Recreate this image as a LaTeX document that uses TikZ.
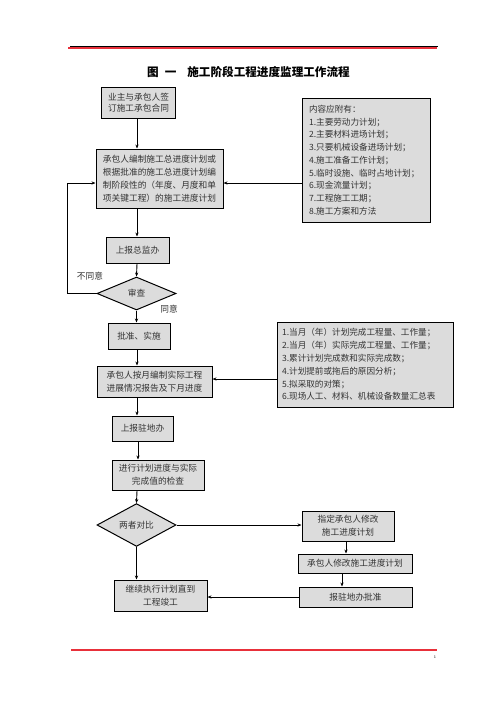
\documentclass[tikz,border=0pt]{standalone}
\usepackage{fontspec}
\newfontfamily\cjk{Noto Sans CJK SC}
\usetikzlibrary{shapes.geometric,arrows.meta}
\definecolor{boxgray}{HTML}{DCDCDC}
\definecolor{txt}{HTML}{333333}
\definecolor{hred}{HTML}{E8303A}
\begin{document}
\begin{tikzpicture}[x=1pt,y=-1pt,
  box/.style={draw=black, line width=1pt, fill=boxgray, inner sep=0pt, align=center, text=txt,
    font=\cjk\fontsize{8.7}{13}\selectfont},
  dia/.style={box, shape=diamond},
  lbox/.style={box, align=left},
  lbl/.style={inner sep=0pt, text=txt, font=\cjk\fontsize{8.7}{13}\selectfont},
  arr/.style={-{Stealth[length=4pt,width=3.2pt]}, line width=0.9pt}]
\useasboundingbox (0,0) rectangle (496,702);
% header and footer
\draw[line width=0.9pt, black] (70,46) -- (438,46);
\draw[line width=1.6pt, hred] (68,48.2) -- (437,48.2);
\draw[line width=1.6pt, hred] (71,650) -- (437,650);
\node[inner sep=0pt, font=\fontsize{4}{4}\selectfont] (pg) at (435,657) {1};
% title
\node[inner sep=0pt, anchor=west, font=\cjk\bfseries\fontsize{11.6}{13}\selectfont] (title) at (147,72)
  {图\hspace{6pt}一\hspace{11pt}施工阶段工程进度监理工作流程};
% columns
\coordinate (cx) at (137,0);
\coordinate (cx2) at (138,0);
\coordinate (lx) at (67,0);
\coordinate (ly) at (0,183);
\coordinate (ly2) at (0,379);
\coordinate (rx1) at (346,0);
\coordinate (rx2) at (342,0);
% left column
\node[box, minimum width=74pt, minimum height=31pt, font=\cjk\fontsize{8.7}{11.5}\selectfont] (b1) at (138.5,102.5) {业主与承包人签\\订施工承包合同};
\node[box, minimum width=127pt, minimum height=59pt] (b2) at (159.5,178.5)
  {承包人编制施工总进度计划或\\根据批准的施工总进度计划编\\制阶段性的（年度、月度和单\\项关键工程）的施工进度计划};
\node[box, minimum width=63pt, minimum height=26pt] (b3) at (137.5,250) {上报总监办};
\node[dia, minimum width=79pt, minimum height=33pt] (d1) at (136.5,293.5) {审查};
\node[lbl] (l1) at (90,276) {不同意};
\node[lbl] (l2) at (169,309) {同意};
\node[box, minimum width=62pt, minimum height=26pt] (b4) at (139,336) {批准、实施};
\node[box, minimum width=115pt, minimum height=31pt] (b5) at (154.5,381.5) {承包人按月编制实际工程\\进展情况报告及下月进度};
\node[box, minimum width=61pt, minimum height=25pt] (b6) at (142.5,428.5) {上报驻地办};
\node[box, minimum width=92pt, minimum height=30pt] (b7) at (158,475) {进行计划进度与实际\\完成值的检查};
\node[dia, minimum width=79pt, minimum height=32pt] (d2) at (136.5,525) {两者对比};
\node[box, minimum width=93pt, minimum height=31pt] (b8) at (160.5,595.5) {继续执行计划直到\\工程竣工};
% right column
\node[lbox, text width=114pt, minimum width=128pt, minimum height=124pt, font=\cjk\fontsize{8.6}{12.75}\selectfont] (r1) at (366,160)
  {内容应附有：\\1.主要劳动力计划；\\2.主要材料进场计划；\\3.只要机械设备进场计划；\\4.施工准备工作计划；\\5.临时设施、临时占地计划；\\6.现金流量计划；\\7.工程施工工期；\\8.施工方案和方法};
\node[lbox, text width=166pt, minimum width=176pt, minimum height=85pt, font=\cjk\fontsize{8.6}{12.8}\selectfont] (r2) at (365,364.5)
  {1.当月（年）计划完成工程量、工作量；\\2.当月（年）实际完成工程量、工作量；\\3.累计计划完成数和实际完成数；\\4.计划提前或拖后的原因分析；\\5.拟采取的对策；\\6.现场人工、材料、机械设备数量汇总表};
\node[box, minimum width=92pt, minimum height=30pt] (r3) at (348,526) {指定承包人修改\\施工进度计划};
\node[box, minimum width=114pt, minimum height=19pt] (r4) at (355,563.5) {承包人修改施工进度计划};
\node[box, minimum width=113pt, minimum height=20pt] (r5) at (355.5,597) {报驻地办批准};
% connectors
\draw[arr] (b1.south -| cx) -- (b2.north -| cx);
\draw[arr] (b2.south -| cx) -- (b3.north -| cx);
\draw[arr] (b3.south -| cx) -- (d1.north);
\draw[arr] (d1.south) -- (b4.north -| d1.south);
\draw[arr] (b4.south -| cx) -- (b5.north -| cx);
\draw[arr] (b5.south -| cx) -- (b6.north -| cx);
\draw[arr] (b6.south -| cx2) -- (b7.north -| cx2);
\draw[arr] (b7.south -| cx) -- (d2.north);
\draw[arr] (d2.south) -- (b8.north -| d2.south);
\draw[arr] (d1.west) -- (d1.west -| lx) -- (lx |- ly) -- (b2.west |- ly);
\draw[arr] (r1.west |- ly) -- (b2.east |- ly);
\draw[arr] (r2.west |- ly2) -- (b5.east |- ly2);
\draw[arr] (d2.east) -- (r3.west |- d2.east);
\draw[arr] (r3.south -| rx1) -- (r4.north -| rx1);
\draw[arr] (r4.south -| rx2) -- (r5.north -| rx2);
\draw[arr] (r5.west) -- (b8.east |- r5.west);
\end{tikzpicture}
\end{document}
